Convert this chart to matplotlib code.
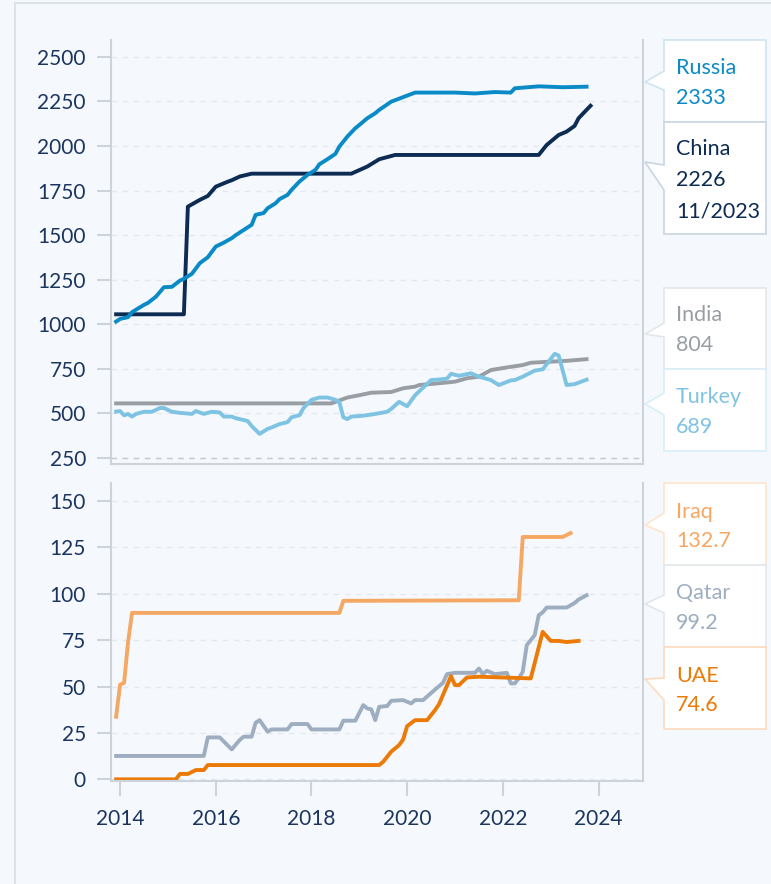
import matplotlib.pyplot as plt
from matplotlib.patches import Polygon
from matplotlib.lines import Line2D

plt.rcParams['font.family'] = ['Lato', 'DejaVu Sans']

# dados mensais ('AAAA-MM', valor)
russia_datas = ['2013-12', '2014-01', '2014-03', '2014-04', '2014-07', '2014-08', '2014-10', '2014-12',
                '2015-02', '2015-04', '2015-05', '2015-07', '2015-09', '2015-11', '2016-01', '2016-03',
                '2016-05', '2016-06', '2016-08', '2016-10', '2016-11', '2017-01', '2017-02', '2017-04',
                '2017-05', '2017-07', '2017-08', '2017-10', '2017-12', '2018-02', '2018-03', '2018-05',
                '2018-07', '2018-08', '2018-10', '2018-12', '2019-01', '2019-03', '2019-05', '2019-06',
                '2019-09', '2020-03', '2021-01', '2021-06', '2021-11', '2022-03', '2022-04', '2022-10',
                '2023-04', '2023-10']
russia = [1015, 1030, 1040, 1068, 1109, 1120, 1155, 1208,
          1210, 1245, 1255, 1283, 1343, 1376, 1436, 1458,
          1483, 1500, 1529, 1558, 1614, 1624, 1651, 1679,
          1702, 1726, 1754, 1801, 1838, 1866, 1898, 1926,
          1956, 1997, 2053, 2100, 2118, 2156, 2184, 2203,
          2249, 2300, 2300, 2295, 2303, 2300, 2324, 2335,
          2330, 2333]

china_datas = ['2013-12', '2015-05', '2015-06', '2015-09', '2015-11', '2016-01', '2016-04', '2016-05',
               '2016-07', '2016-10', '2018-11', '2019-03', '2019-06', '2019-10', '2022-10', '2022-12',
               '2023-03', '2023-05', '2023-07', '2023-08', '2023-10', '2023-11']
china = [1056, 1056, 1660, 1698, 1720, 1772, 1800, 1808,
         1829, 1845, 1845, 1885, 1926, 1950, 1950, 2006,
         2062, 2081, 2113, 2156, 2203, 2226]

india_datas = ['2013-12', '2018-06', '2018-10', '2019-01', '2019-04', '2019-09', '2019-12', '2020-03',
               '2020-04', '2020-09', '2021-01', '2021-04', '2021-07', '2021-10', '2022-02', '2022-06',
               '2022-08', '2022-12', '2023-05', '2023-10']
india = [556, 556, 589, 602, 616, 620, 641, 650,
         659, 669, 678, 697, 706, 743, 758, 771,
         784, 789, 795, 804]

turkey_datas = ['2013-12', '2014-01', '2014-02', '2014-03', '2014-04', '2014-05', '2014-07', '2014-09',
                '2014-11', '2014-12', '2015-02', '2015-04', '2015-07', '2015-08', '2015-10', '2015-12',
                '2016-02', '2016-03', '2016-05', '2016-06', '2016-07', '2016-09', '2016-10', '2016-12',
                '2017-02', '2017-03', '2017-05', '2017-07', '2017-08', '2017-10', '2017-11', '2018-01',
                '2018-03', '2018-05', '2018-07', '2018-08', '2018-09', '2018-10', '2018-11', '2019-01',
                '2019-03', '2019-05', '2019-08', '2019-09', '2019-11', '2020-01', '2020-03', '2020-07',
                '2020-09', '2020-11', '2020-12', '2021-02', '2021-05', '2021-07', '2021-10', '2021-12',
                '2022-03', '2022-04', '2022-06', '2022-09', '2022-11', '2023-02', '2023-03', '2023-05',
                '2023-07', '2023-10']
turkey = [510, 513, 489, 497, 482, 497, 509, 509,
          530, 530, 509, 503, 497, 513, 497, 509,
          505, 482, 482, 473, 468, 457, 429, 385,
          413, 421, 440, 451, 478, 490, 530, 576,
          589, 589, 576, 563, 478, 468, 482, 485,
          490, 497, 509, 525, 565, 540, 602, 687,
          690, 695, 722, 711, 725, 706, 687, 659,
          685, 687, 706, 740, 747, 834, 825, 659,
          664, 689]

iraq_datas = ['2013-12', '2014-01', '2014-02', '2014-03', '2014-04', '2018-08', '2018-09', '2022-05',
              '2022-06', '2023-04', '2023-06']
iraq = [33.7, 51, 52, 74, 89.7, 89.7, 96.2, 96.5,
        130.6, 130.6, 132.7]

qatar_datas = ['2013-12', '2015-10', '2015-11', '2016-02', '2016-05', '2016-07', '2016-08', '2016-10',
               '2016-11', '2016-12', '2017-02', '2017-03', '2017-07', '2017-08', '2017-12', '2018-01',
               '2018-08', '2018-09', '2018-12', '2019-02', '2019-03', '2019-04', '2019-05', '2019-06',
               '2019-08', '2019-09', '2019-12', '2020-02', '2020-03', '2020-05', '2020-08', '2020-10',
               '2020-11', '2021-01', '2021-06', '2021-07', '2021-08', '2021-09', '2021-11', '2022-02',
               '2022-03', '2022-04', '2022-05', '2022-06', '2022-07', '2022-09', '2022-10', '2022-11',
               '2022-12', '2023-05', '2023-07', '2023-08', '2023-10']
qatar = [12.6, 12.6, 22.6, 22.6, 16.1, 21.2, 23, 23,
         30.5, 31.9, 25.7, 26.9, 26.9, 29.8, 29.8, 26.9,
         26.9, 31.6, 31.6, 40, 38.2, 37.7, 31.9, 39.1,
         39.5, 42.3, 42.7, 40.9, 42.7, 42.7, 48.4, 52,
         56.7, 57.4, 57.4, 59.7, 56.7, 58.5, 56.7, 57.4,
         51.7, 51.7, 54.4, 58, 72.3, 77.7, 88.4, 90,
         92.6, 92.6, 95, 96.9, 99.2]

uae_datas = ['2013-12', '2015-03', '2015-04', '2015-06', '2015-08', '2015-10', '2015-11', '2019-06',
             '2019-07', '2019-09', '2019-11', '2019-12', '2020-01', '2020-03', '2020-06', '2020-08',
             '2020-09', '2020-12', '2021-01', '2021-02', '2021-04', '2021-07', '2022-08', '2022-11',
             '2023-01', '2023-03', '2023-05', '2023-08']
uae = [0, 0, 2.9, 2.9, 5, 5, 7.7, 7.7,
       9.5, 14.9, 18.5, 21.5, 28.7, 31.9, 31.9, 37.3,
       40.5, 55.6, 50.8, 50.8, 54.9, 55.3, 54.4, 79.5,
       74.6, 74.6, 74, 74.6]

anos_ticks = [2014, 2016, 2018, 2020, 2022, 2024]
ticks_cima = [250, 500, 750, 1000, 1250, 1500, 1750, 2000, 2250, 2500]
ticks_baixo = [0, 25, 50, 75, 100, 125, 150]


def ano(datas):
    # 'AAAA-MM' -> ano decimal
    return [int(d[:4]) + (int(d[5:]) - 1) / 12 for d in datas]


W, H = 771, 884
def fx(x):
    return x / W
def fy(y):
    return 1 - y / H

fundo = '#f5f9fd'
eixo_cor = '#cdd3da'
texto_cor = '#1c355e'

fig = plt.figure(figsize=(7.71, 8.84), dpi=100, facecolor=fundo)

# moldura externa
fig.add_artist(Line2D([fx(15), fx(15)], [0, fy(3)], color='#dde2e8', lw=1.5))
fig.add_artist(Line2D([fx(15), 1], [fy(3), fy(3)], color='#dde2e8', lw=1.5))

ax1 = fig.add_axes([fx(111), fy(464), fx(643) - fx(111), fy(40) - fy(464)])
ax2 = fig.add_axes([fx(111), fy(781), fx(643) - fx(111), fy(483) - fy(781)])

for ax in (ax1, ax2):
    ax.set_facecolor(fundo)
    ax.spines['top'].set_visible(False)
    for s in ('left', 'right', 'bottom'):
        ax.spines[s].set_color(eixo_cor)
        ax.spines[s].set_linewidth(1.5)
    ax.set_xlim(2013.81, 2024.93)
    ax.grid(axis='y', color='#e4e9ef', ls=(0, (4, 4)), lw=1)
    ax.set_axisbelow(True)
    ax.tick_params(axis='y', length=10, width=1.5, color=eixo_cor, labelsize=15,
                   labelcolor=texto_cor, pad=8)

# painel de cima
ax1.plot(ano(india_datas), india, color='#999ea5', lw=2.8)
ax1.plot(ano(china_datas), china, color='#0d2c54', lw=2.8)
ax1.plot(ano(turkey_datas), turkey, color='#7fc3e3', lw=2.8)
ax1.plot(ano(russia_datas), russia, color='#0a8ac6', lw=2.8)
ax1.axhline(250, color='#c4cad1', ls=(0, (4, 4)), lw=1)
ax1.set_ylim(216, 2595)
ax1.set_yticks(ticks_cima)
ax1.set_xticks([])

# painel de baixo
ax2.plot(ano(qatar_datas), qatar, color='#9eaec0', lw=2.8)
ax2.plot(ano(iraq_datas), iraq, color='#f5a864', lw=2.8)
ax2.plot(ano(uae_datas), uae, color='#ec7a06', lw=2.8)
ax2.set_ylim(-0.9, 159.7)
ax2.set_yticks(ticks_baixo)
ax2.set_xticks(anos_ticks)
ax2.set_xticklabels([str(a) for a in anos_ticks])
ax2.tick_params(axis='x', length=11, width=1.5, color=eixo_cor, labelsize=15,
                labelcolor=texto_cor, pad=9)

# caixas de rotulo a direita: (linhas, cor do texto, cor da borda, topo, base, ponta)
caixas = [
    (['Russia', '2333'], '#0a8ac6', '#cfe4f1', 40, 122, (71, 82, 90), [74, 104]),
    (['China', '2226', '11/2023'], '#0d2c54', '#c9d5e1', 122, 234, (165, 162, 190), [155, 186, 217]),
    (['India', '804'], '#999ea5', '#e4e6e9', 288, 369, (323, 334, 337), [321, 351]),
    (['Turkey', '689'], '#7fc3e3', '#d9edf7', 369, 451, (393, 404, 415), [403, 433]),
    (['Iraq', '132.7'], '#f5a864', '#fde4cc', 483, 565, (513, 525, 533), [518, 547]),
    (['Qatar', '99.2'], '#9eaec0', '#e1e7ee', 565, 647, (595, 604, 613), [599, 629]),
    (['UAE', '74.6'], '#ec7a06', '#fcdcbd', 647, 729, (678, 679, 700), [682, 711]),
]
for linhas, cor, borda, topo, base, (pt, pm, pb), ys in caixas:
    pts = [(664, topo), (766, topo), (766, base), (664, base), (664, pb), (645, pm), (664, pt)]
    fig.add_artist(Polygon([(fx(x), fy(y)) for x, y in pts], closed=True, transform=fig.transFigure,
                           facecolor='white', edgecolor=borda, lw=1.2))
    for t, y in zip(linhas, ys):
        fig.text(fx(676), fy(y), t, color=cor, fontsize=15.5, va='baseline', ha='left')

fig.savefig('out.png', dpi=100, facecolor=fundo)
